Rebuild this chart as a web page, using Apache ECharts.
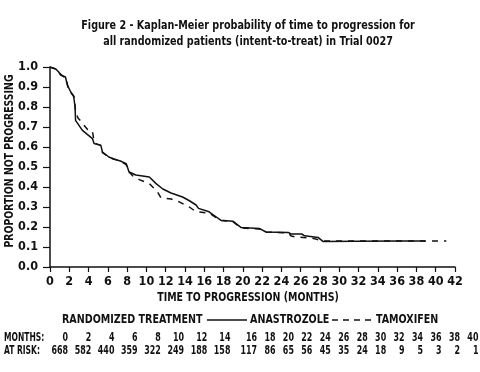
<!DOCTYPE html>
<html>
<head>
<meta charset="utf-8">
<script src="https://cdn.jsdelivr.net/npm/echarts@6/dist/echarts.min.js"></script>
<style>
html,body{margin:0;padding:0;background:#fff;}
#chart{width:480px;height:372px;}
</style>
</head>
<body>
<div id="chart"></div>
<script>
// ---- data ----
var anastrozole = [
  [0,1.0],[0.6,0.99],[0.9,0.975],[1.1,0.96],[1.6,0.95],[1.8,0.91],[2.15,0.875],[2.45,0.855],
  [2.6,0.80],[2.65,0.733],[3.36,0.683],[4.4,0.642],[4.57,0.617],[5.27,0.608],[5.44,0.575],
  [6.1,0.55],[6.6,0.54],[7.3,0.53],[7.9,0.517],[8.2,0.475],[8.9,0.46],[10.3,0.45],[11.0,0.417],
  [11.7,0.39],[12.55,0.37],[13.75,0.35],[14.5,0.33],[15.15,0.31],[15.4,0.293],[16.5,0.276],
  [17.1,0.255],[17.7,0.234],[18.95,0.229],[19.8,0.198],[21.7,0.193],[22.4,0.175],[24.7,0.173],
  [25.0,0.165],[26.1,0.165],[26.4,0.156],[27.8,0.148],[28.3,0.128],[32,0.129],[36,0.13],[38.9,0.13]
];
var tamoxifen = [
  [0,1.0],[0.6,0.99],[1.0,0.97],[1.3,0.955],[1.7,0.945],[1.85,0.9],[2.2,0.87],[2.5,0.85],
  [2.65,0.78],[2.9,0.745],[3.2,0.73],[3.5,0.71],[3.9,0.687],[4.4,0.68],[4.6,0.62],[5.27,0.608],
  [5.44,0.572],[6.1,0.55],[6.6,0.54],[7.3,0.53],[7.9,0.512],[8.1,0.48],[8.6,0.455],[9.25,0.437],
  [10.3,0.417],[11.15,0.375],[11.5,0.346],[12.55,0.34],[13.4,0.326],[14.45,0.30],[15.15,0.276],
  [16.5,0.27],[17.7,0.232],[18.95,0.228],[19.8,0.195],[21.7,0.19],[22.4,0.174],[24.7,0.171],
  [25.0,0.155],[25.5,0.15],[27.3,0.143],[28.3,0.13],[32,0.13],[36,0.13],[41.1,0.13]
];
var riskMonths = [0,2,4,6,8,10,12,14,16,18,20,22,24,26,28,30,32,34,36,38,40];
var atRisk = [668,582,440,359,322,249,188,158,117,86,65,56,45,35,24,18,9,5,3,2,1];
var titleLines = ['Figure 2 - Kaplan-Meier probability of time to progression for',
                  'all randomized patients (intent-to-treat) in Trial 0027'];
var seriesNames = ['ANASTROZOLE','TAMOXIFEN'];

// ---- styling ----
var FONT = "'DejaVu Sans Condensed','Liberation Sans Narrow',sans-serif";
var INK = '#111';

function txt(s, x, y, size, align, sx, rot){
  return {type:'text', x:x, y:y, scaleX:sx||1, rotation:rot||0,
    style:{text:s, font:'bold '+size+'px '+FONT, fill:INK, textAlign:align||'left', textVerticalAlign:'middle'}};
}
function colRight(i){ return i < 8 ? 68 + 23.2*i : 257 + 18.45*(i-8); }

var graphics = [
  txt(titleLines[0], 248, 26, 13, 'center', 0.822),
  txt(titleLines[1], 248, 42, 13, 'center', 0.822),
  txt('PROPORTION NOT PROGRESSING', 10, 161, 13, 'center', 0.80, Math.PI/2),
  txt('TIME TO PROGRESSION (MONTHS)', 248, 298, 13, 'center', 0.808),
  txt('RANDOMIZED TREATMENT', 62, 320, 13, 'left', 0.817),
  {type:'line', shape:{x1:207, y1:320, x2:247, y2:320}, style:{stroke:INK, lineWidth:1.5}},
  txt(seriesNames[0], 250, 320, 13, 'left', 0.817),
  {type:'line', shape:{x1:332, y1:320, x2:372, y2:320}, style:{stroke:INK, lineWidth:1.5, lineDash:[6,5]}},
  txt(seriesNames[1], 376, 320, 13, 'left', 0.817),
  txt('MONTHS:', 4, 338, 12, 'left', 0.70),
  txt('AT RISK:', 4, 351, 12, 'left', 0.70)
];
riskMonths.forEach(function(m,i){
  graphics.push(txt(String(m), colRight(i), 338, 12, 'right', 0.735));
  graphics.push(txt(String(atRisk[i]), colRight(i), 351, 12, 'right', 0.735));
});

var chart = echarts.init(document.getElementById('chart'), null, {renderer:'canvas'});
chart.setOption({
  animation:false,
  backgroundColor:'#fff',
  grid:{left:50, right:25, top:67, bottom:105},
  xAxis:{
    type:'value', min:0, max:42, interval:2,
    axisLine:{lineStyle:{color:INK, width:1.5}},
    axisTick:{length:5, lineStyle:{color:INK, width:1.2}},
    axisLabel:{fontFamily:FONT, fontWeight:'bold', fontSize:12.5, color:INK, margin:8},
    splitLine:{show:false}
  },
  yAxis:{
    type:'value', min:0, max:1, interval:0.1,
    axisLine:{show:true, lineStyle:{color:INK, width:1.5}},
    axisTick:{show:true, length:7, lineStyle:{color:INK, width:1.2}},
    axisLabel:{fontFamily:FONT, fontWeight:'bold', fontSize:12.5, color:INK, margin:12,
      formatter:function(v){return v.toFixed(1);}},
    splitLine:{show:false}
  },
  series:[
    {name:seriesNames[0], type:'line', data:anastrozole, symbol:'none', color:INK,
     lineStyle:{color:INK, width:1.5, type:'solid'}},
    {name:seriesNames[1], type:'line', data:tamoxifen, symbol:'none', color:INK,
     lineStyle:{color:INK, width:1.5, type:[6,6]}}
  ],
  graphic:graphics
});
</script>
</body>
</html>
